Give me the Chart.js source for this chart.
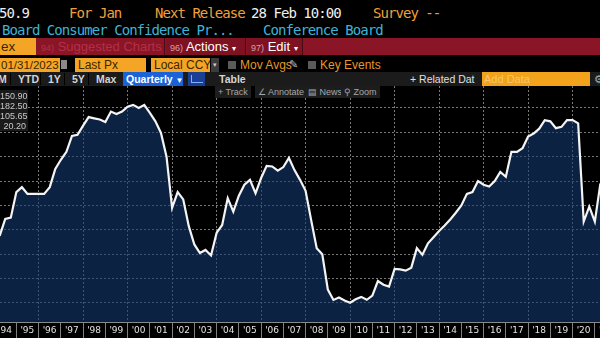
<!DOCTYPE html>
<html lang="en">
<head>
  <meta charset="UTF-8">
  <title>Conference Board Consumer Confidence Present Situation</title>
  <script src="https://cdn.jsdelivr.net/npm/chart.js"></script>
  <style>
    html, body { margin: 0; padding: 0; background: #000; }
    #screen {
      position: relative;
      width: 600px;
      height: 338px;
      overflow: hidden;
      background: #000;
      font-family: 'Liberation Sans', Arial, sans-serif;
    }
    .abs { position: absolute; white-space: nowrap; }
    .mono {
      font-family: 'DejaVu Sans Mono', monospace;
      font-size: 14px;
      letter-spacing: -0.95px;
      line-height: 14px;
    }
    .orange { color: #f0a03a; }
    .white { color: #f0f0f0; }
    .cyan { color: #3cb4d6; }
    .obox {
      background: #f5a526;
      color: #3a2600;
      font-size: 12px;
      line-height: 14px;
      height: 14px;
      padding-left: 1px;
      box-sizing: border-box;
      overflow: hidden;
    }
    .redbox {
      height: 17px;
      line-height: 17px;
      font-size: 13px;
      box-sizing: border-box;
      border-right: 1px solid #4a0a14;
    }
    .num { font-size: 9px; }
    .tab { color: #d4d4d4; font-size: 10.5px; font-weight: bold; line-height: 13px; }
    .btn {
      background: #1d1d1d;
      color: #a8a8a8;
      font-size: 9px;
      line-height: 12px;
      height: 12px;
      padding: 0 3px;
      box-sizing: border-box;
    }
    #legend {
      left: 0; top: 90px; width: 28px; height: 41px;
      background: rgba(28, 28, 28, 0.92);
      color: #c8c8c8;
      font-size: 9px;
      line-height: 10px;
      text-align: right;
      padding-top: 1px;
      box-sizing: border-box;
      z-index: 3;
    }
    #legend div { padding-right: 2px; }
    #chartBox { left: 0; top: 86px; width: 600px; height: 252px; }
  </style>
</head>
<body>
<div id="screen">
  <!-- header rows -->
  <div class="abs mono white" style="left:-1px;top:6px;">50.9</div>
  <div class="abs mono orange" style="left:69px;top:6px;">For Jan</div>
  <div class="abs mono orange" style="left:155px;top:6px;">Next Release</div>
  <div class="abs mono white" style="left:251px;top:6px;">28 Feb 10:00</div>
  <div class="abs mono orange" style="left:373px;top:6px;">Survey --</div>
  <div class="abs mono cyan" style="left:2px;top:23px;">Board Consumer Confidence Pr...</div>
  <div class="abs mono cyan" style="left:263px;top:23px;">Conference Board</div>

  <!-- red toolbar -->
  <div class="abs" style="left:0;top:38px;width:600px;height:17px;background:#8a1526;"></div>
  <div class="abs obox" style="left:0;top:38px;width:36px;height:17px;line-height:17px;font-size:13.5px;">ex</div>
  <div class="abs redbox" style="left:37px;top:38px;width:128px;color:#b43048;padding-left:4px;">
    <span class="num">94)</span> Suggested Charts</div>
  <div class="abs redbox" style="left:166px;top:38px;width:80px;color:#fff;padding-left:4px;background:#7e1222;">
    <span class="num" style="color:#d8a0a8;">96)</span> Actions <span style="font-size:8px;">&#9662;</span></div>
  <div class="abs redbox" style="left:247px;top:38px;width:56px;color:#fff;padding-left:4px;background:#7e1222;">
    <span class="num" style="color:#d8a0a8;">97)</span> Edit <span style="font-size:8px;">&#9662;</span></div>

  <!-- inputs row -->
  <div class="abs obox" style="left:0;top:58px;width:60px;font-size:11.5px;">01/31/2023</div>
  <div class="abs" style="left:61px;top:60px;width:6px;height:9px;background:#8a8a8a;"></div>
  <div class="abs obox" style="left:75px;top:58px;width:71px;padding-left:3px;">Last Px</div>
  <div class="abs obox" style="left:151px;top:58px;width:59px;padding-left:3px;">Local CCY</div>
  <div class="abs" style="left:211px;top:58px;width:8px;height:14px;background:#3c3c3c;color:#ccc;font-size:7px;line-height:14px;text-align:center;">&#9662;</div>
  <div class="abs" style="left:228px;top:61px;width:8px;height:8px;background:#5a5a5a;"></div>
  <div class="abs orange" style="left:240px;top:58px;font-size:12px;line-height:14px;color:#e8962a;">Mov Avgs</div>
  <div class="abs" style="left:289px;top:57px;font-size:11px;color:#bbb;line-height:14px;">&#9998;</div>
  <div class="abs" style="left:308px;top:61px;width:8px;height:8px;background:#5a5a5a;"></div>
  <div class="abs orange" style="left:320px;top:58px;font-size:12px;line-height:14px;color:#e8962a;">Key Events</div>

  <!-- range / frequency row -->
  <div class="abs" style="left:0;top:72px;width:600px;height:14px;background:#1b1b1b;"></div>
  <div class="abs tab" style="left:-2px;top:73px;">M</div>
  <div class="abs" style="left:10px;top:73px;width:1px;height:12px;background:#000;"></div>
  <div class="abs tab" style="left:18px;top:73px;">YTD</div>
  <div class="abs" style="left:40px;top:73px;width:1px;height:12px;background:#000;"></div>
  <div class="abs tab" style="left:48px;top:73px;">1Y</div>
  <div class="abs" style="left:64px;top:73px;width:1px;height:12px;background:#000;"></div>
  <div class="abs tab" style="left:72px;top:73px;">5Y</div>
  <div class="abs" style="left:88px;top:73px;width:1px;height:12px;background:#000;"></div>
  <div class="abs tab" style="left:96px;top:73px;">Max</div>
  <div class="abs tab" style="left:123px;top:72px;width:60px;height:14px;background:#1a62d6;color:#fff;padding-left:3px;box-sizing:border-box;line-height:14px;">Quarterly <span style="font-size:8px;">&#9660;</span></div>
  <div class="abs" style="left:188px;top:72px;width:17px;height:14px;background:#1c3f96;"></div>
  <div class="abs" style="left:191px;top:75px;width:11px;height:7px;border-left:1px solid #7fb0ff;border-bottom:1px solid #7fb0ff;"></div>
  <div class="abs tab" style="left:219px;top:73px;">Table</div>
  <div class="abs tab" style="left:410px;top:73px;font-weight:normal;color:#e0e0e0;">+ Related Dat</div>
  <div class="abs" style="left:482px;top:72px;width:108px;height:14px;background:#f3a21c;color:#f8c86a;font-size:11px;line-height:14px;padding-left:2px;box-sizing:border-box;">Add Data</div>
  <div class="abs" style="left:594px;top:72px;color:#aaa;font-size:11px;line-height:14px;">&#9881;</div>

  <!-- chart -->
  <div id="chartBox" class="abs"><canvas id="chart" width="600" height="252"></canvas></div>

  <!-- chart overlay buttons -->
  <div class="abs btn" style="left:215px;top:86px;z-index:3;">+ Track</div>
  <div class="abs btn" style="left:255px;top:86px;z-index:3;">&#8736; Annotate</div>
  <div class="abs btn" style="left:305px;top:86px;z-index:3;">&#9636; News</div>
  <div class="abs btn" style="left:341px;top:86px;z-index:3;">&#9906; Zoom</div>

  <div id="legend" class="abs"></div>
</div>

<script>
  // years shown on the axis (one label per year)
  const years = [1994, 1995, 1996, 1997, 1998, 1999, 2000, 2001, 2002, 2003, 2004, 2005, 2006, 2007,
                 2008, 2009, 2010, 2011, 2012, 2013, 2014, 2015, 2016, 2017, 2018, 2019, 2020, 2021];
  const yearLabels = ["'94", "'95", "'96", "'97", "'98", "'99", "'00", "'01", "'02", "'03", "'04", "'05", "'06", "'07",
                      "'08", "'09", "'10", "'11", "'12", "'13", "'14", "'15", "'16", "'17", "'18", "'19", "'20", "'21"];
  // vertical grid lines every other year
  const gridYears = [1996, 1998, 2000, 2002, 2004, 2006, 2008, 2010, 2012, 2014, 2016, 2018, 2020];
  // horizontal grid values
  const gridValues = [20, 40, 60, 80, 100, 120, 140, 160, 180];

  // Present Situation index, quarterly (Q1..Q4 per row)
  const presentSituation = [
    75, 89, 90, 111,          // 1994
    115, 109.5, 109.5, 109.5, // 1995
    109.5, 115, 130, 137.5,   // 1996
    144, 157, 158, 165.5,     // 1997
    172.5, 171.5, 170.5, 168.5, // 1998
    177, 175, 177, 181,       // 1999
    182.5, 180, 182.5, 176,   // 2000
    169, 159.5, 140, 98,      // 2001
    111, 105, 83, 68,         // 2002
    61, 63.5, 59, 77.5,       // 2003
    84, 106, 95, 108,         // 2004
    117, 121, 110, 122.5,     // 2005
    132.5, 132, 128.5, 131.5, // 2006
    139, 129, 121, 112,       // 2007
    88, 65, 60, 31,           // 2008
    22.5, 24.5, 22, 20.2,     // 2009
    23, 25, 22.6, 26,         // 2010
    38, 35, 33.5, 48,         // 2011
    47.5, 46.5, 49, 65,       // 2012
    59.5, 69, 74, 79,         // 2013
    83.5, 88.5, 94, 100,      // 2014
    109.5, 111, 120, 117,     // 2015
    115.5, 120, 127.5, 123.5, // 2016
    144, 144, 147, 156.5,     // 2017
    159, 163, 170, 169,       // 2018
    163.4, 164.5, 170, 170,   // 2019
    167.4, 86.8, 99, 86.8,    // 2020
    118, 158                  // 2021
  ];

  // last / high / average / low
  const legendStats = ['150.90', '182.50', '105.65', '20.20'];

  document.getElementById('legend').innerHTML = legendStats.map(s => `<div>${s}</div>`).join('');

  // quarter-end dates as decimal years
  const points = presentSituation.map((v, i) => ({
    x: years[Math.floor(i / 4)] + (i % 4 + 1) * 0.25,
    y: v
  }));

  const xMin = 1994.265, xMax = 2021.232;
  const gridColor = '#7a7a7a';

  new Chart(document.getElementById('chart'), {
    type: 'line',
    data: {
      datasets: [{
        data: points,
        borderColor: '#f4f4f4',
        borderWidth: 2.2,
        backgroundColor: 'rgba(18, 56, 112, 0.6)',
        fill: 'start',
        pointRadius: 0,
        tension: 0
      }]
    },
    options: {
      responsive: false,
      animation: false,
      layout: { padding: 0, autoPadding: false },
      plugins: { legend: { display: false }, tooltip: { enabled: false } },
      scales: {
        x: {
          type: 'linear',
          position: 'bottom',
          bounds: 'data',
          min: xMin,
          max: xMax,
          afterBuildTicks: s => { s.ticks = years.map(y => ({ value: y })); },
          afterFit: s => { s.height = 16; },
          ticks: {
            autoSkip: false,
            maxRotation: 0,
            labelOffset: 11,
            padding: -13,
            color: '#e2e2e2',
            font: { family: 'DejaVu Sans', size: 9 },
            callback: (v, i) => yearLabels[i]
          },
          grid: { drawOnChartArea: false, drawTicks: true, tickLength: 16, color: '#808080' },
          border: { display: true, color: '#8a8a8a' }
        },
        xg: {
          type: 'linear',
          position: 'bottom',
          bounds: 'data',
          min: xMin,
          max: xMax,
          afterBuildTicks: s => { s.ticks = gridYears.map(y => ({ value: y })); },
          afterFit: s => { s.height = 0; },
          ticks: { display: false },
          grid: { color: gridColor, drawTicks: false },
          border: { display: false, dash: [2, 2] }
        },
        y: {
          min: 4.4,
          max: 198,
          afterBuildTicks: s => { s.ticks = gridValues.map(v => ({ value: v })); },
          afterFit: s => { s.width = 0; },
          ticks: { display: false },
          grid: { color: gridColor, drawTicks: false },
          border: { display: false, dash: [2, 2] }
        }
      }
    }
  });
</script>
</body>
</html>
